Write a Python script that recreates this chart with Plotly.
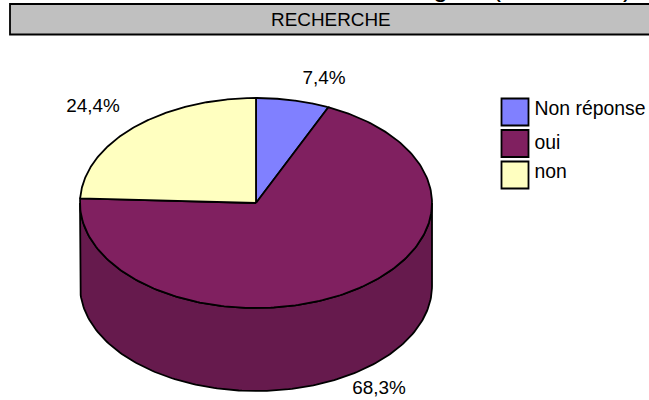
import numpy as np
import plotly.graph_objects as go

# --- data ---
categories = ["Non réponse", "oui", "non"]
values = [7.4, 68.3, 24.4]
value_labels = ["7,4%", "68,3%", "24,4%"]
header_title = "RECHERCHE"
cut_title_glyphs = ["g", "(", ")"]

# --- styling / layout ---
W, H = 649, 400
FONT = "Liberation Sans, Arial, sans-serif"
FS = 18.9
LEGEND_FS = 19.4
top_colors = ["#8080FF", "#802060", "#FFFFC0"]
side_colors = ["#6666CC", "#661A4D", "#CCCC9A"]
CX, CY, RX, RY, DEPTH = 256, 203, 176, 105, 83
FORESHORTEN = 0.9
label_pos = [(324, 79), (379, 389), (93, 107)]
legend_x, legend_ys, legend_size = 515, [112, 143.5, 175], 27
legend_text_x, legend_text_ys = 534.5, [110, 144, 173.5]
cut_glyph_x = [440, 496, 627]


def view(a):
    """Viewing-angle correction of a pie angle (radians clockwise from the top)."""
    return np.arctan2(FORESHORTEN * np.sin(a), np.cos(a)) % (2 * np.pi) + (
        np.floor(a / (2 * np.pi)) * 2 * np.pi
    )


def rim(a):
    t = view(a)
    t = np.where(a >= 2 * np.pi - 1e-9, 2 * np.pi, t)
    return CX + RX * np.sin(t), CY - RY * np.cos(t)


shares = np.array(values) / np.sum(values) * 2 * np.pi
edges = np.concatenate([[0], np.cumsum(shares)])

fig = go.Figure()

# side wall: the front half of the rim (angles 90 to 270 degrees)
for i, name in enumerate(categories):
    a0, a1 = max(edges[i], np.pi / 2), min(edges[i + 1], 3 * np.pi / 2)
    if a1 <= a0:
        continue
    a = np.linspace(a0, a1, 160)
    x, y = rim(a)
    fig.add_trace(go.Scatter(
        x=np.r_[x, x[::-1], x[0]], y=np.r_[y, y[::-1] + DEPTH, y[0]],
        mode="lines", fill="toself", fillcolor=side_colors[i],
        line=dict(color="black", width=1.8), hoverinfo="skip", showlegend=False,
    ))

# top face
for i, name in enumerate(categories):
    a = np.linspace(edges[i], edges[i + 1], 220)
    x, y = rim(a)
    fig.add_trace(go.Scatter(
        x=np.r_[CX, x, CX], y=np.r_[CY, y, CY],
        mode="lines", fill="toself", fillcolor=top_colors[i],
        line=dict(color="black", width=1.8), name=name, hoverinfo="name",
        showlegend=False,
    ))

# value labels
fig.add_trace(go.Scatter(
    x=[p[0] for p in label_pos], y=[p[1] for p in label_pos],
    mode="text", text=value_labels, textposition="middle center",
    textfont=dict(family=FONT, size=FS, color="black"),
    hoverinfo="skip", showlegend=False,
))

# legend keys and their labels
fig.add_trace(go.Scatter(
    x=[legend_x] * 3, y=legend_ys, mode="markers",
    marker=dict(symbol="square", size=legend_size, color=top_colors,
                line=dict(color="black", width=1.8)),
    hoverinfo="skip", showlegend=False,
))
fig.add_trace(go.Scatter(
    x=[legend_text_x] * 3, y=legend_text_ys, mode="text",
    text=categories, textposition="middle right",
    textfont=dict(family=FONT, size=LEGEND_FS, color="black"),
    hoverinfo="skip", showlegend=False,
))

annotations = [dict(x=331, y=19.5, text=header_title, showarrow=False,
                    font=dict(family=FONT, size=FS, color="black"))]
# glyph ends of the page title that the reference crop cuts off at the top edge
for gx, g in zip(cut_glyph_x, cut_title_glyphs):
    annotations.append(dict(x=gx, y=3.5, yanchor="bottom", text=g, showarrow=False,
                            font=dict(family=FONT, size=27, color="black")))

fig.update_layout(
    width=W, height=H, margin=dict(l=0, r=0, t=0, b=0),
    paper_bgcolor="white", plot_bgcolor="white", showlegend=False,
    xaxis=dict(range=[0, W], visible=False, fixedrange=True),
    yaxis=dict(range=[H, 0], visible=False, fixedrange=True),
    shapes=[dict(type="rect", x0=10, y0=4, x1=W + 5, y1=34.5,
                 fillcolor="#C0C0C0", line=dict(color="black", width=1.8), layer="below")],
    annotations=annotations,
)
fig.write_html(
    "out.html",
    config={"displayModeBar": False},
    post_script="document.body.style.margin='0';document.body.style.overflow='hidden';",
)
